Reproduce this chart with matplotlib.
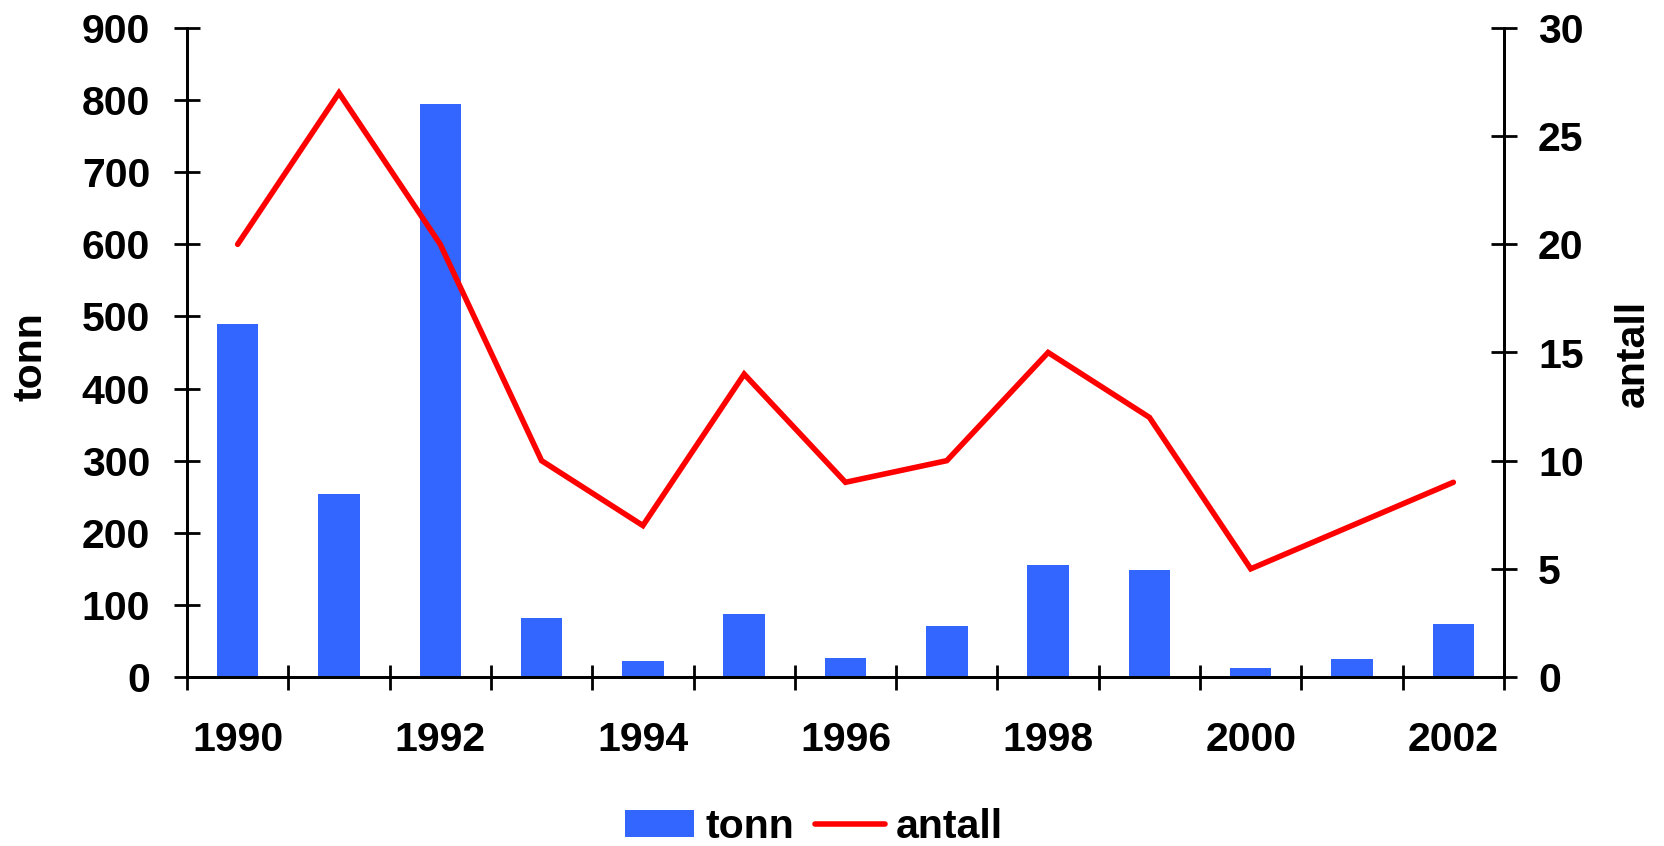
import numpy as np
import matplotlib
matplotlib.use("Agg")
import matplotlib.pyplot as plt
from matplotlib.font_manager import FontProperties
from matplotlib.ticker import FixedLocator, NullFormatter

# data
years = ["1990", "1991", "1992", "1993", "1994", "1995", "1996",
         "1997", "1998", "1999", "2000", "2001", "2002"]
tonn = [490, 254, 794, 82, 22, 88, 26, 71, 155, 149, 13, 25, 74]
antall = [20, 27, 20, 10, 7, 14, 9, 10, 15, 12, 5, 7, 9]

bar_color = "#3366FF"
line_color = "#FF0000"
font = FontProperties(family=["Liberation Sans", "DejaVu Sans"], weight="bold", size=29.5)

fig = plt.figure(figsize=(16.64, 8.46), dpi=100)
ax = fig.add_axes([187 / 1664, 1 - 677 / 846, (1504 - 187) / 1664, (677 - 28) / 846])
ax2 = ax.twinx()

x = np.arange(len(years))
bars = ax.bar(x, tonn, width=0.41, color=bar_color, label="tonn", zorder=2)
line, = ax2.plot(x, antall, color=line_color, lw=4, solid_capstyle="round",
                 solid_joinstyle="miter", label="antall", zorder=3)

ax.set_xlim(-0.5, len(years) - 0.5)
ax.set_ylim(0, 900)
ax2.set_ylim(0, 30)
ax.set_yticks(np.arange(0, 901, 100))
ax2.set_yticks(np.arange(0, 31, 5))

# ticks on category boundaries, labels on every other category
ax.xaxis.set_major_locator(FixedLocator(np.arange(-0.5, len(years), 1.0)))
ax.xaxis.set_major_formatter(NullFormatter())
ax.xaxis.set_minor_locator(FixedLocator(x[::2]))
ax.set_xticklabels(years[::2], minor=True, fontproperties=font)
ax.tick_params(axis="x", which="minor", length=0, pad=32)
ax.tick_params(axis="x", which="major", direction="inout", length=18, width=2)

ax.tick_params(axis="y", direction="inout", length=19, width=2, pad=17)
ax2.tick_params(axis="y", direction="inout", length=19, width=2, pad=15)
for lab in ax.get_yticklabels() + ax2.get_yticklabels():
    lab.set_fontproperties(font)

for a in (ax, ax2):
    a.spines["top"].set_visible(False)
    for s in ("left", "right", "bottom"):
        a.spines[s].set_linewidth(2)
    a.patch.set_visible(False)

ax.set_ylabel("tonn", fontproperties=font, va="center")
ax2.set_ylabel("antall", fontproperties=font, va="center")
ax.yaxis.set_label_coords(31 / 1664, 1 - 357 / 846, transform=fig.transFigure)
ax2.yaxis.set_label_coords(1633 / 1664, 1 - 353 / 846, transform=fig.transFigure)

fig.legend([bars, line], ["tonn", "antall"], loc="center",
           bbox_to_anchor=(814 / 1664, 1 - 827 / 846), ncol=2, frameon=False,
           prop=font, handlelength=1.7, handleheight=0.62, handletextpad=0.28,
           columnspacing=0.5, borderpad=0, borderaxespad=0)

fig.savefig("out.png", dpi=100, facecolor="white")
